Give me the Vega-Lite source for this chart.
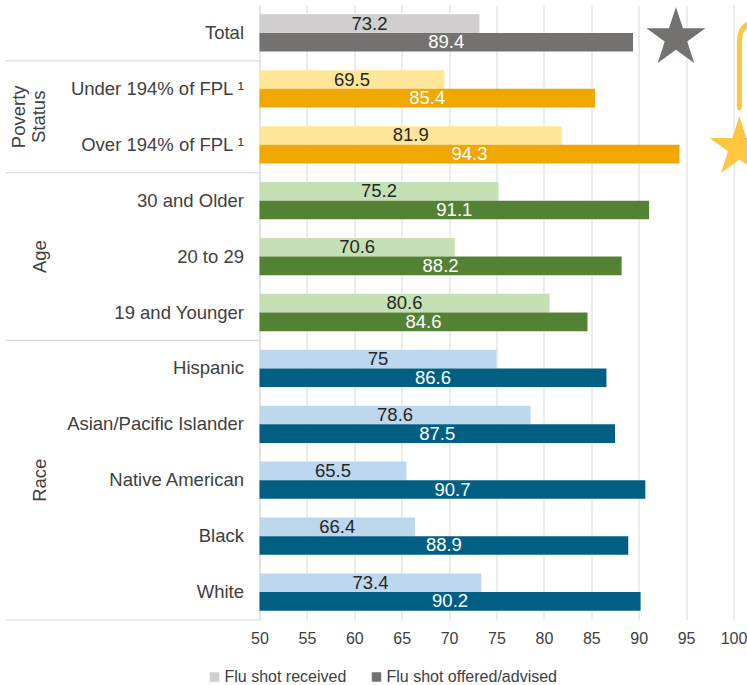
{
  "$schema": "https://vega.github.io/schema/vega-lite/v6.json",
  "width": 474,
  "height": 615,
  "autosize": {"type": "none"},
  "padding": {"left": 259.5, "top": 5, "right": 13.5, "bottom": 65},
  "config": {
    "font": "Liberation Sans",
    "view": {"stroke": null},
    "axisY": {"labelFontSize": 18.5, "labelColor": "#404040", "ticks": false, "domainColor": "#D9D9D9", "domainWidth": 1, "labelPadding": 16, "grid": false, "labelLimit": 400},
    "axisX": {"labelFontSize": 16, "labelColor": "#404040", "ticks": false, "domain": false, "grid": true, "gridColor": "#D9D9D9", "gridWidth": 1, "labelPadding": 10, "labelFlush": false},
    "legend": {"orient": "none", "legendX": -53, "legendY": 664, "direction": "horizontal", "symbolType": "square", "symbolSize": 90, "labelFontSize": 16, "labelColor": "#404040", "columnPadding": 22, "labelOffset": 2, "padding": 0, "symbolStrokeWidth": 0, "labelLimit": 400}
  },
  "datasets": {
    "bars": [
      {"cat": "Total", "group": "Total", "series": "Flu shot received", "value": 73.2},
      {"cat": "Total", "group": "Total", "series": "Flu shot offered/advised", "value": 89.4},
      {"cat": "Under 194% of FPL ¹", "group": "Poverty Status", "series": "Flu shot received", "value": 69.5},
      {"cat": "Under 194% of FPL ¹", "group": "Poverty Status", "series": "Flu shot offered/advised", "value": 85.4},
      {"cat": "Over 194% of FPL ¹", "group": "Poverty Status", "series": "Flu shot received", "value": 81.9},
      {"cat": "Over 194% of FPL ¹", "group": "Poverty Status", "series": "Flu shot offered/advised", "value": 94.3},
      {"cat": "30 and Older", "group": "Age", "series": "Flu shot received", "value": 75.2},
      {"cat": "30 and Older", "group": "Age", "series": "Flu shot offered/advised", "value": 91.1},
      {"cat": "20 to 29", "group": "Age", "series": "Flu shot received", "value": 70.6},
      {"cat": "20 to 29", "group": "Age", "series": "Flu shot offered/advised", "value": 88.2},
      {"cat": "19 and Younger", "group": "Age", "series": "Flu shot received", "value": 80.6},
      {"cat": "19 and Younger", "group": "Age", "series": "Flu shot offered/advised", "value": 84.6},
      {"cat": "Hispanic", "group": "Race", "series": "Flu shot received", "value": 75},
      {"cat": "Hispanic", "group": "Race", "series": "Flu shot offered/advised", "value": 86.6},
      {"cat": "Asian/Pacific Islander", "group": "Race", "series": "Flu shot received", "value": 78.6},
      {"cat": "Asian/Pacific Islander", "group": "Race", "series": "Flu shot offered/advised", "value": 87.5},
      {"cat": "Native American", "group": "Race", "series": "Flu shot received", "value": 65.5},
      {"cat": "Native American", "group": "Race", "series": "Flu shot offered/advised", "value": 90.7},
      {"cat": "Black", "group": "Race", "series": "Flu shot received", "value": 66.4},
      {"cat": "Black", "group": "Race", "series": "Flu shot offered/advised", "value": 88.9},
      {"cat": "White", "group": "Race", "series": "Flu shot received", "value": 73.4},
      {"cat": "White", "group": "Race", "series": "Flu shot offered/advised", "value": 90.2}
    ],
    "groupsMid": [
      {"cat": "20 to 29", "label": "Age"},
      {"cat": "Native American", "label": "Race"}
    ],
    "groupsEdge": [
      {"cat": "Over 194% of FPL ¹", "label": "Poverty\nStatus"}
    ],
    "seps": [
      {"cat": "Under 194% of FPL ¹"},
      {"cat": "30 and Older"},
      {"cat": "Hispanic"}
    ],
    "sepBottom": [
      {"cat": "White"}
    ]
  },
  "layer": [
    {
      "layer": [
        {
          "data": {"name": "bars"},
          "transform": [{"filter": {"field": "series", "equal": "Flu shot received"}}],
          "mark": {"type": "bar"},
          "encoding": {
            "x": {"field": "value", "type": "quantitative", "title": null, "scale": {"domain": [50, 100], "nice": false, "zero": false}, "axis": {"values": [50, 55, 60, 65, 70, 75, 80, 85, 90, 95, 100]}},
            "x2": {"datum": 50},
            "y": {"field": "cat", "type": "nominal", "title": null, "sort": null, "scale": {"domain": ["Total", "Under 194% of FPL ¹", "Over 194% of FPL ¹", "30 and Older", "20 to 29", "19 and Younger", "Hispanic", "Asian/Pacific Islander", "Native American", "Black", "White"], "paddingInner": 0, "paddingOuter": 0}},
            "yOffset": {"field": "series", "type": "nominal", "scale": {"domain": ["Flu shot received", "Flu shot offered/advised"], "paddingInner": 0, "paddingOuter": 0.5}},
            "color": {"field": "group", "type": "nominal", "legend": null, "scale": {"domain": ["Total", "Poverty Status", "Age", "Race"], "range": ["#D0CECE", "#FFE699", "#C5E0B4", "#BDD7EE"]}}
          }
        },
        {
          "data": {"name": "bars"},
          "transform": [{"filter": {"field": "series", "equal": "Flu shot offered/advised"}}],
          "mark": {"type": "bar"},
          "encoding": {
            "x": {"field": "value", "type": "quantitative", "title": null, "scale": {"domain": [50, 100], "nice": false, "zero": false}},
            "x2": {"datum": 50},
            "y": {"field": "cat", "type": "nominal", "title": null, "sort": null},
            "yOffset": {"field": "series", "type": "nominal"},
            "color": {"field": "group", "type": "nominal", "legend": null, "scale": {"domain": ["Total", "Poverty Status", "Age", "Race"], "range": ["#767171", "#F0A800", "#548235", "#005F83"]}}
          }
        },
        {
          "data": {"name": "bars"},
          "mark": {"type": "bar"},
          "encoding": {
            "x": {"datum": 50, "type": "quantitative", "title": null},
            "x2": {"datum": 50},
            "y": {"field": "cat", "type": "nominal", "title": null, "sort": null},
            "yOffset": {"field": "series", "type": "nominal"},
            "color": {"field": "series", "type": "nominal", "title": null, "scale": {"domain": ["Flu shot received", "Flu shot offered/advised"], "range": ["#D0CECE", "#767171"]}}
          }
        },
        {
          "data": {"name": "seps"},
          "mark": {"type": "rule", "color": "#D9D9D9", "strokeWidth": 1.2},
          "encoding": {
            "x": {"datum": 23.26, "type": "quantitative"},
            "x2": {"datum": 50},
            "y": {"field": "cat", "type": "nominal", "title": null, "sort": null, "bandPosition": 0}
          }
        },
        {
          "data": {"name": "sepBottom"},
          "mark": {"type": "rule", "color": "#D9D9D9", "strokeWidth": 1.2},
          "encoding": {
            "x": {"datum": 23.26, "type": "quantitative"},
            "x2": {"datum": 50},
            "y": {"field": "cat", "type": "nominal", "title": null, "sort": null, "bandPosition": 1}
          }
        },
        {
          "data": {"name": "groupsMid"},
          "mark": {"type": "text", "fontSize": 18.5, "color": "#404040", "angle": 270, "align": "center", "baseline": "middle"},
          "encoding": {
            "x": {"datum": 26.8, "type": "quantitative"},
            "y": {"field": "cat", "type": "nominal", "title": null, "sort": null},
            "text": {"field": "label"}
          }
        },
        {
          "data": {"name": "groupsEdge"},
          "mark": {"type": "text", "fontSize": 18.5, "color": "#404040", "angle": 270, "align": "center", "baseline": "middle", "lineBreak": "\n", "lineHeight": 20},
          "encoding": {
            "x": {"datum": 24.65, "type": "quantitative"},
            "y": {"field": "cat", "type": "nominal", "title": null, "sort": null, "bandPosition": 0},
            "text": {"field": "label"}
          }
        },
        {
          "data": {"values": [{}]},
          "mark": {"type": "point", "shape": "M0,-0.84L0.225,-0.149L0.951,-0.149L0.363,0.278L0.588,0.969L0,0.542L-0.588,0.969L-0.363,0.278L-0.951,-0.149L-0.225,-0.149Z", "filled": true, "color": "#767171", "opacity": 1, "size": 3844, "strokeWidth": 0},
          "encoding": {
            "x": {"datum": 93.93, "type": "quantitative"},
            "y": {"datum": "Total", "type": "nominal"}
          }
        },
        {
          "data": {"values": [{}]},
          "mark": {"type": "point", "shape": "M0,-0.91L0.225,-0.219L0.951,-0.219L0.363,0.208L0.588,0.899L0,0.472L-0.588,0.899L-0.363,0.208L-0.951,-0.219L-0.225,-0.219Z", "filled": true, "color": "#FFC640", "opacity": 1, "size": 3919, "strokeWidth": 0},
          "encoding": {
            "x": {"datum": 100.62, "type": "quantitative"},
            "y": {"datum": "Over 194% of FPL ¹", "type": "nominal"}
          }
        },
        {
          "data": {"values": [{}]},
          "mark": {"type": "point", "shape": "M0,1.87L0,0.22Q0,-0.28 0.5,-0.28L0.9,-0.28", "filled": false, "color": "#FFC640", "opacity": 1, "size": 6400, "strokeWidth": 5, "strokeCap": "round"},
          "encoding": {
            "x": {"datum": 100.62, "type": "quantitative"},
            "y": {"datum": "Total", "type": "nominal"}
          }
        }
      ],
      "resolve": {"scale": {"color": "independent"}}
    },
    {
      "layer": [
        {
          "data": {"name": "bars"},
          "transform": [{"filter": {"field": "series", "equal": "Flu shot received"}}],
          "mark": {"type": "text", "fontSize": 18.5, "color": "#262626"},
          "encoding": {
            "x": {"field": "value", "type": "quantitative", "title": null, "scale": {"domain": [50, 150], "nice": false, "zero": false}, "axis": null},
            "y": {"field": "cat", "type": "nominal", "title": null, "sort": null},
            "yOffset": {"field": "series", "type": "nominal"},
            "text": {"field": "value", "type": "quantitative"}
          }
        },
        {
          "data": {"name": "bars"},
          "transform": [{"filter": {"field": "series", "equal": "Flu shot offered/advised"}}],
          "mark": {"type": "text", "fontSize": 18.5, "color": "#FFFFFF"},
          "encoding": {
            "x": {"field": "value", "type": "quantitative", "title": null, "scale": {"domain": [50, 150], "nice": false, "zero": false}, "axis": null},
            "y": {"field": "cat", "type": "nominal", "title": null, "sort": null},
            "yOffset": {"field": "series", "type": "nominal"},
            "text": {"field": "value", "type": "quantitative"}
          }
        }
      ]
    }
  ],
  "resolve": {"scale": {"x": "independent"}}
}
